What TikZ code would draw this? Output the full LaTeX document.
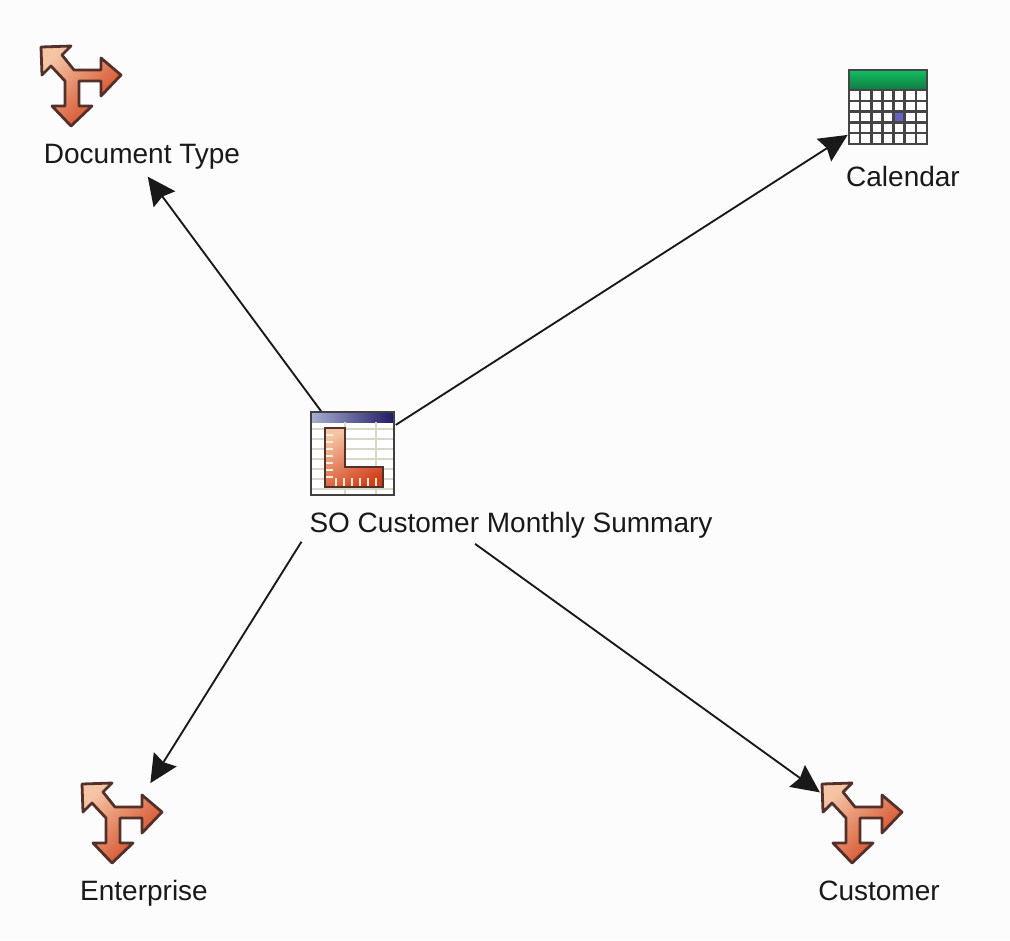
\documentclass[tikz,border=0pt]{standalone}
\usepackage{fontspec}
\setmainfont{Liberation Sans}
\usetikzlibrary{arrows.meta}
\definecolor{arrowlight}{HTML}{F4C4A4}
\definecolor{arrowmid}{HTML}{E47A52}
\definecolor{arrowdark}{HTML}{D2401A}
\definecolor{arrowedge}{HTML}{54302A}
\definecolor{gridedge}{HTML}{454545}
\definecolor{headdark}{HTML}{1F1A66}
\definecolor{headlight}{HTML}{A9AED2}
\definecolor{calgreen}{HTML}{12BE62}
\definecolor{caldark}{HTML}{0F7A42}
\definecolor{calblue}{HTML}{6A62C0}
\tikzset{
	spot/.style={inner sep=0pt,minimum size=0pt,outer sep=0pt},
	caption/.style={inner sep=0pt,anchor=base,font=\fontsize{21}{25}\selectfont,text=black!90},
	link/.style={draw=black!90,line width=1.4pt,-{Stealth[length=21pt,width=20pt,inset=2.5pt]}},
	dimicon/.pic={
		\draw[top color=arrowlight,middle color=arrowmid,bottom color=arrowdark,shading angle=45,draw=arrowedge,line width=2.1pt,line join=round]
			(-39,-38) -- (-9,-39) -- (-18,-30) -- (-6,-15) -- (21,-15) -- (21,-27) -- (41,-10)
			-- (21,11) -- (21,-4) -- (-1,-4) -- (-1,21) -- (12,21) -- (-9,41) -- (-28,21)
			-- (-15,21) -- (-15,-4) -- (-29,-19) -- (-38,-10) -- cycle;
	},
	calicon/.pic={
		\fill[white] (-39,-46) rectangle (39,28);
		\shade[top color=calgreen,bottom color=caldark] (-39,-46) rectangle (39,-26);
		\fill[calblue] (5,-4) rectangle (16,7);
		\foreach \i in {1,...,6}
			\draw[gridedge,line width=1.9pt] (-39+\i*78/7,-26) -- (-39+\i*78/7,28);
		\foreach \j in {0,...,4}
			\draw[gridedge,line width=1.9pt] (-39,-26+\j*54/5) -- (39,-26+\j*54/5);
		\draw[gridedge,line width=1.7pt] (-39,-46) rectangle (39,28);
	},
	sumicon/.pic={
		\fill[white] (-41,-41) rectangle (42,42);
		\shade[left color=headlight,right color=headdark] (-41,-41) rectangle (42,-31);
		\foreach \j in {-24,-14,...,36}
			\draw[yellow!30!black!25,line width=0.8pt] (-41,\j) -- (42,\j);
		\foreach \i in {-7,24}
			\draw[yellow!30!black!25,line width=0.8pt] (\i,-31) -- (\i,42);
		\draw[top color=arrowlight,middle color=arrowmid,bottom color=arrowdark,shading angle=30,draw=arrowedge,line width=1.8pt]
			(-27,-25) -- (-7,-25) -- (-7,14) -- (31,14) -- (31,34) -- (-27,34) -- cycle;
		\foreach \i in {-16,-8,...,24}
			\draw[white!85!orange,line width=1pt] (\i,33) -- (\i,25);
		\foreach \j in {-18,-11,...,25}
			\draw[white!85!orange,line width=1pt] (-26,\j) -- (-19,\j);
		\draw[black!75,line width=1.6pt] (-41,-41) rectangle (42,42);
	}
}
\begin{document}
\begin{tikzpicture}[x=0.75pt,y=-0.75pt]
	\useasboundingbox[fill=black!1] (0,0) rectangle (1010,940);
	\node[spot] (summary) at (352,453) {};
	\node[spot] (doctype) at (80,85) {};
	\node[spot] (calendar) at (888,109) {};
	\node[spot] (enterprise) at (126,822) {};
	\node[spot] (customer) at (861,822) {};

	\draw[link,shorten <=39pt,shorten >=85.5pt] (summary) -- (doctype);
	\draw[link,shorten <=39pt,shorten >=36pt] (summary) -- (calendar);
	\draw[link,shorten <=78.5pt,shorten >=34.4pt] ([xshift=3.75pt]summary.center) -- (enterprise);
	\draw[link,shorten <=116.6pt,shorten >=38pt] ([xshift=-2.25pt]summary.center) -- (customer);

	\pic at (summary) {sumicon};
	\pic at (doctype) {dimicon};
	\pic at ([yshift=-5.25pt]calendar.center) {calicon};
	\pic at ([xshift=-3.75pt]enterprise.center) {dimicon};
	\pic at (customer) {dimicon};

	\node[caption] (summarytext) at (511,532) {SO Customer Monthly Summary};
	\node[caption] (doctypetext) at (142,163) {Document Type};
	\node[caption] (calendartext) at (903,186) {Calendar};
	\node[caption] (enterprisetext) at (144,900) {Enterprise};
	\node[caption] (customertext) at (879,900) {Customer};
\end{tikzpicture}
\end{document}
